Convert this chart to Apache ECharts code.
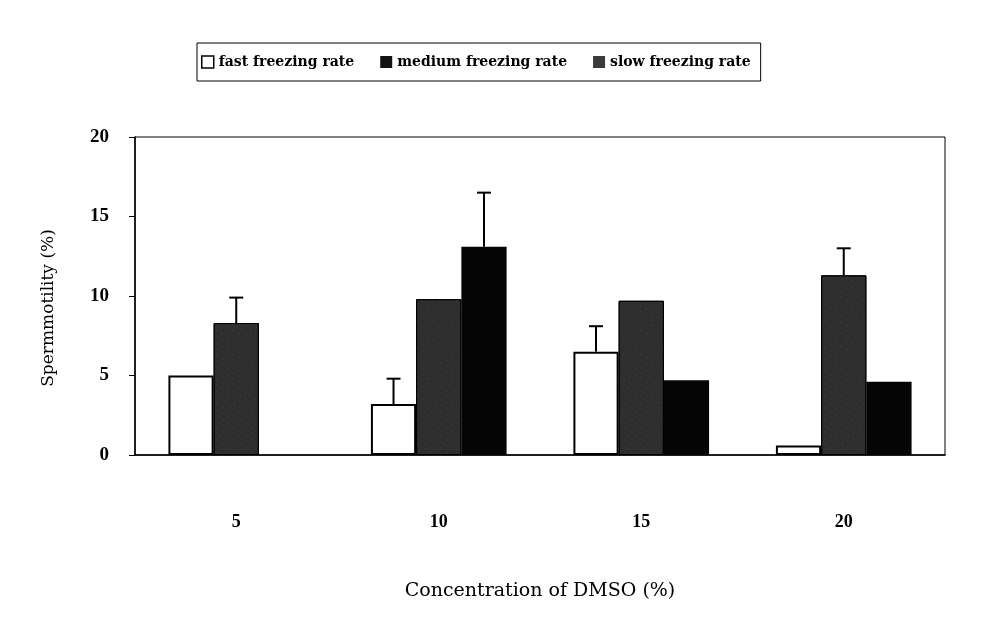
<!DOCTYPE html>
<html>
<head>
<meta charset="utf-8">
<script src="https://cdn.jsdelivr.net/npm/echarts@6/dist/echarts.min.js"></script>
<style>
  html, body { margin: 0; padding: 0; background: #fff; }
  #chart { width: 982px; height: 634px; }
</style>
</head>
<body>
<div id="chart"></div>
<script>
// DMSO concentration (%)
var categories = ['5', '10', '15', '20'];
var seriesNames = ['fast freezing rate', 'medium freezing rate', 'slow freezing rate'];

// sperm motility (%)
var fastValues = [5.0, 3.2, 6.5, 0.6];
var mediumValues = [8.3, 9.8, 9.7, 11.3];
var slowValues = [0, 13.1, 4.7, 4.6];

// upper error bar lengths (null = no error bar drawn)
var fastErr = [null, 1.6, 1.6, null];
var mediumErr = [1.6, null, null, 1.7];
var slowErr = [null, 3.4, null, null];

var yTicks = [0, 5, 10, 15, 20];

var FONT = '"Liberation Serif", "Times New Roman", serif';
var WIDE = '"DejaVu Serif", serif';
var CAT_GAP = 0.33;

function errData(vals, errs) {
  var out = [];
  for (var i = 0; i < vals.length; i++) {
    if (errs[i] != null) out.push([i, vals[i], vals[i] + errs[i]]);
  }
  return out;
}

function errSeries(vals, errs, pos) {
  return {
    type: 'custom',
    silent: true,
    z: 5,
    data: errData(vals, errs),
    renderItem: function (params, api) {
      var band = api.size([1, 0])[0];
      var barW = band * (1 - CAT_GAP) / 3;
      var base = api.coord([api.value(0), api.value(1)]);
      var top = api.coord([api.value(0), api.value(2)]);
      var x = base[0] + (pos - 1) * barW;
      var cap = 7;
      var st = { stroke: '#000', lineWidth: 2 };
      return {
        type: 'group',
        children: [
          { type: 'line', shape: { x1: x, y1: base[1], x2: x, y2: top[1] }, style: st },
          { type: 'line', shape: { x1: x - cap, y1: top[1], x2: x + cap, y2: top[1] }, style: st }
        ]
      };
    }
  };
}

var chart = echarts.init(document.getElementById('chart'));
chart.setOption({
  backgroundColor: '#fff',
  animation: false,
  legend: {
    left: 197,
    top: 43,
    padding: [12, 10, 12, 4],
    borderColor: '#000',
    borderWidth: 1,
    itemWidth: 12,
    itemHeight: 12,
    itemGap: 26,
    textStyle: { fontFamily: WIDE, fontWeight: 'bold', fontSize: 14, color: '#000' },
    data: [
      { name: seriesNames[0], icon: 'rect', itemStyle: { color: '#fff', borderColor: '#000', borderWidth: 1.5 } },
      { name: seriesNames[1], icon: 'rect', itemStyle: { color: '#111', borderWidth: 0 } },
      { name: seriesNames[2], icon: 'rect', itemStyle: { color: '#3a3a3a', borderWidth: 0 } }
    ]
  },
  grid: {
    left: 135,
    right: 37,
    top: 137,
    bottom: 179,
    show: true,
    borderColor: '#000',
    borderWidth: 1
  },
  xAxis: {
    type: 'category',
    data: categories,
    name: 'Concentration of DMSO (%)',
    nameLocation: 'middle',
    nameGap: 127,
    nameTextStyle: { fontFamily: WIDE, fontSize: 19, color: '#000' },
    axisLine: { lineStyle: { color: '#000', width: 1.5 } },
    axisTick: { show: false },
    axisLabel: { margin: 58, fontFamily: FONT, fontWeight: 'bold', fontSize: 18, color: '#000' }
  },
  yAxis: {
    type: 'value',
    min: 0,
    max: 20,
    interval: 5,
    name: 'Spermmotility (%)',
    nameLocation: 'middle',
    nameGap: 78,
    nameTextStyle: { fontFamily: WIDE, fontSize: 17, color: '#000', padding: [0, 24, 0, 0] },
    axisLine: { show: true, lineStyle: { color: '#000', width: 1.5 } },
    axisTick: { show: true, length: 6, lineStyle: { color: '#000' } },
    splitLine: { show: false },
    axisLabel: {
      margin: 26,
      fontFamily: FONT, fontWeight: 'bold', fontSize: 19, color: '#000',
      formatter: function (v) { return yTicks.indexOf(v) >= 0 ? String(v) : ''; }
    }
  },
  series: [
    {
      name: seriesNames[0], type: 'bar', data: fastValues,
      barGap: '0%', barCategoryGap: (CAT_GAP * 100) + '%',
      itemStyle: { color: '#fff', borderColor: '#000', borderWidth: 2 }
    },
    {
      name: seriesNames[1], type: 'bar', data: mediumValues,
      itemStyle: {
        color: '#2e2e2e', borderColor: '#000', borderWidth: 1,
        decal: {
          symbol: 'rect', symbolSize: 0.5, color: 'rgba(200,200,200,0.35)',
          dashArrayX: [[1, 3], [2, 5]], dashArrayY: [1, 4], rotation: 0.6
        }
      }
    },
    {
      name: seriesNames[2], type: 'bar', data: slowValues,
      itemStyle: { color: '#050505', borderWidth: 0 }
    },
    errSeries(fastValues, fastErr, 0),
    errSeries(mediumValues, mediumErr, 1),
    errSeries(slowValues, slowErr, 2)
  ]
});
</script>
</body>
</html>
